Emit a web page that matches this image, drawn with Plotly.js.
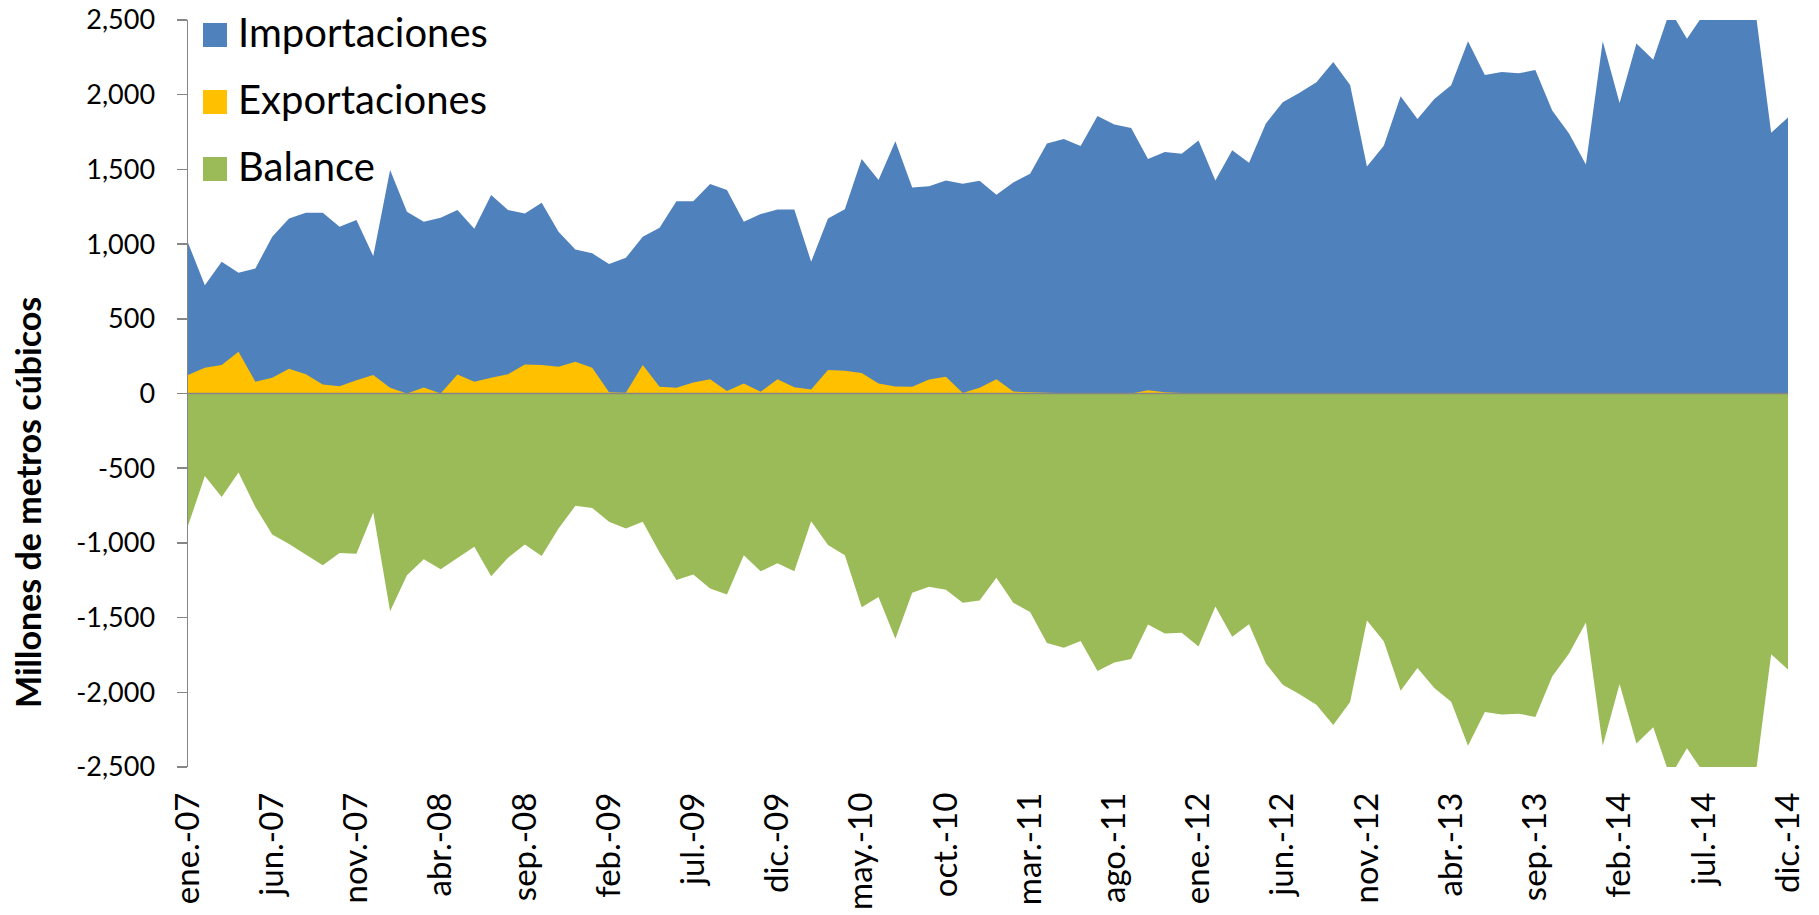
<!DOCTYPE html>
<html>
<head>
<meta charset="utf-8">
<script src="https://cdn.plot.ly/plotly-3.0.1.min.js"></script>
<style>
  html, body { margin: 0; padding: 0; background: #ffffff; }
  #chart { width: 1819px; height: 915px; }
</style>
</head>
<body>
<div id="chart"></div>
<script>
// ---- Data (millones de metros cúbicos, mensual ene-2007 .. dic-2014) ----
const monthNames = ["ene.", "feb.", "mar.", "abr.", "may.", "jun.", "jul.", "ago.", "sep.", "oct.", "nov.", "dic."];
const years = ["07", "08", "09", "10", "11", "12", "13", "14"];

const importaciones = [
  1009, 725, 882, 808, 837, 1049, 1172, 1210, 1210, 1116, 1161, 920,
  1496, 1217, 1150, 1176, 1228, 1103, 1328, 1228, 1205, 1277, 1083, 964,
  938, 866, 908, 1049, 1109, 1286, 1286, 1402, 1362, 1150, 1201, 1232,
  1232, 882, 1172, 1234, 1569, 1429, 1688, 1379, 1388, 1426, 1404, 1424,
  1330, 1413, 1471, 1674, 1703, 1656, 1857, 1801, 1777, 1569, 1616, 1605,
  1694, 1426, 1629, 1545, 1808, 1949, 2013, 2083, 2219, 2065, 1520, 1658,
  1989, 1837, 1971, 2063, 2357, 2132, 2152, 2143, 2165, 1895, 1741, 1533,
  2357, 1944, 2342, 2234, 2565, 2375, 2540, 2640, 2600, 2620, 1746, 1848
];

const exportaciones = [
  123, 172, 190, 279, 78, 105, 165, 129, 60, 49, 89, 123,
  38, 0, 40, 0, 127, 78, 105, 129, 194, 190, 179, 212,
  172, 8, 5, 190, 45, 38, 74, 96, 16, 67, 11, 96,
  42, 27, 158, 152, 138, 67, 47, 45, 94, 112, 4, 38,
  96, 13, 9, 4, 2, 0, 0, 0, 0, 22, 9, 4,
  0, 0, 0, 0, 0, 0, 0, 0, 0, 0, 0, 0,
  0, 0, 0, 0, 0, 0, 3, 0, 0, 0, 0, 0,
  0, 0, 0, 0, 0, 0, 0, 0, 0, 0, 0, 0
];

const balance = [
  -886, -553, -692, -529, -759, -944, -1007, -1081, -1150, -1067, -1072, -797,
  -1458, -1217, -1110, -1176, -1101, -1025, -1223, -1099, -1011, -1087, -904, -752,
  -766, -858, -903, -859, -1064, -1248, -1212, -1306, -1346, -1083, -1190, -1136,
  -1190, -855, -1014, -1082, -1431, -1362, -1641, -1334, -1294, -1314, -1400, -1386,
  -1234, -1400, -1462, -1670, -1701, -1656, -1857, -1801, -1777, -1547, -1607, -1601,
  -1694, -1426, -1629, -1545, -1808, -1949, -2013, -2083, -2219, -2065, -1520, -1658,
  -1989, -1837, -1971, -2063, -2357, -2132, -2149, -2143, -2165, -1895, -1741, -1533,
  -2357, -1944, -2342, -2234, -2565, -2375, -2540, -2640, -2600, -2620, -1746, -1848
];

const xTickLabels = ["ene.-07", "jun.-07", "nov.-07", "abr.-08", "sep.-08", "feb.-09", "jul.-09",
  "dic.-09", "may.-10", "oct.-10", "mar.-11", "ago.-11", "ene.-12", "jun.-12", "nov.-12",
  "abr.-13", "sep.-13", "feb.-14", "jul.-14", "dic.-14"];
const yTickVals = [-2500, -2000, -1500, -1000, -500, 0, 500, 1000, 1500, 2000, 2500];
const yTickLabels = ["-2,500", "-2,000", "-1,500", "-1,000", "-500", "0", "500", "1,000", "1,500", "2,000", "2,500"];

const seriesNames = ["Importaciones", "Exportaciones", "Balance"];
const seriesColors = ["#4F81BD", "#FFC000", "#9BBB59"];

// categories: month labels
const meses = [];
years.forEach(y => monthNames.forEach(m => meses.push(m + "-" + y)));

const FONT = "Lato, 'Open Sans', sans-serif";

const seriesData = [importaciones, exportaciones, balance];
const traces = seriesData.map((vals, i) => ({
  type: "scatter",
  mode: "lines",
  x: meses,
  y: vals,
  name: seriesNames[i],
  fill: "tozeroy",
  fillcolor: seriesColors[i],
  line: { width: 0, color: seriesColors[i] },
  showlegend: false,
  hoverinfo: "x+y+name"
}));

// custom legend (squares + text) inside the plot area, top-left
const shapes = [];
const annotations = [];
const rowTop = [3, 70, 137];
seriesNames.forEach((n, i) => {
  shapes.push({
    type: "rect", xref: "paper", yref: "paper",
    xsizemode: "pixel", ysizemode: "pixel",
    xanchor: 0, yanchor: 1,
    x0: 15, x1: 39, y0: -rowTop[i], y1: -(rowTop[i] + 24),
    fillcolor: seriesColors[i], line: { width: 0 }, layer: "above"
  });
  annotations.push({
    xref: "paper", yref: "paper", x: 0, y: 1,
    xanchor: "left", yanchor: "middle",
    xshift: 48, yshift: -(rowTop[i] + 9),
    text: n, showarrow: false,
    font: { family: FONT, size: 40, color: "#000000" }
  });
});

// zero axis line
shapes.push({
  type: "line", xref: "paper", yref: "y", x0: 0, x1: 1, y0: 0, y1: 0,
  line: { color: "#868686", width: 1.5 }, layer: "above"
});

// y axis title
annotations.push({
  xref: "paper", yref: "paper", x: 0, y: 1,
  xanchor: "center", yanchor: "middle",
  xshift: -161, yshift: -(503 - 20),
  textangle: -90,
  text: "<b>Millones de metros cúbicos</b>", showarrow: false,
  font: { family: FONT, size: 34, color: "#000000" }
});

const layout = {
  width: 1819, height: 915,
  margin: { l: 188, r: 31, t: 20, b: 148 },
  paper_bgcolor: "#ffffff", plot_bgcolor: "#ffffff",
  showlegend: false,
  font: { family: FONT, color: "#000000" },
  xaxis: {
    type: "category",
    range: [0, 95],
    tickmode: "array",
    tickvals: xTickLabels,
    ticktext: xTickLabels,
    tickangle: -90,
    ticks: "",
    showgrid: false, zeroline: false, showline: false,
    ticklabelstandoff: 18,
    tickfont: { family: FONT, size: 33, color: "#000000" }
  },
  yaxis: {
    range: [-2500, 2500],
    tickmode: "array",
    tickvals: yTickVals,
    ticktext: yTickLabels,
    showgrid: false, zeroline: false,
    showline: true, linecolor: "#868686", linewidth: 1.5,
    ticks: "outside", ticklen: 10, tickwidth: 1.5, tickcolor: "#868686",
    ticklabelstandoff: 16,
    tickfont: { family: FONT, size: 27, color: "#000000" },
    title: { text: "" }
  },
  shapes: shapes,
  annotations: annotations
};

Plotly.newPlot("chart", traces, layout, { displayModeBar: false, staticPlot: true });
</script>
</body>
</html>
